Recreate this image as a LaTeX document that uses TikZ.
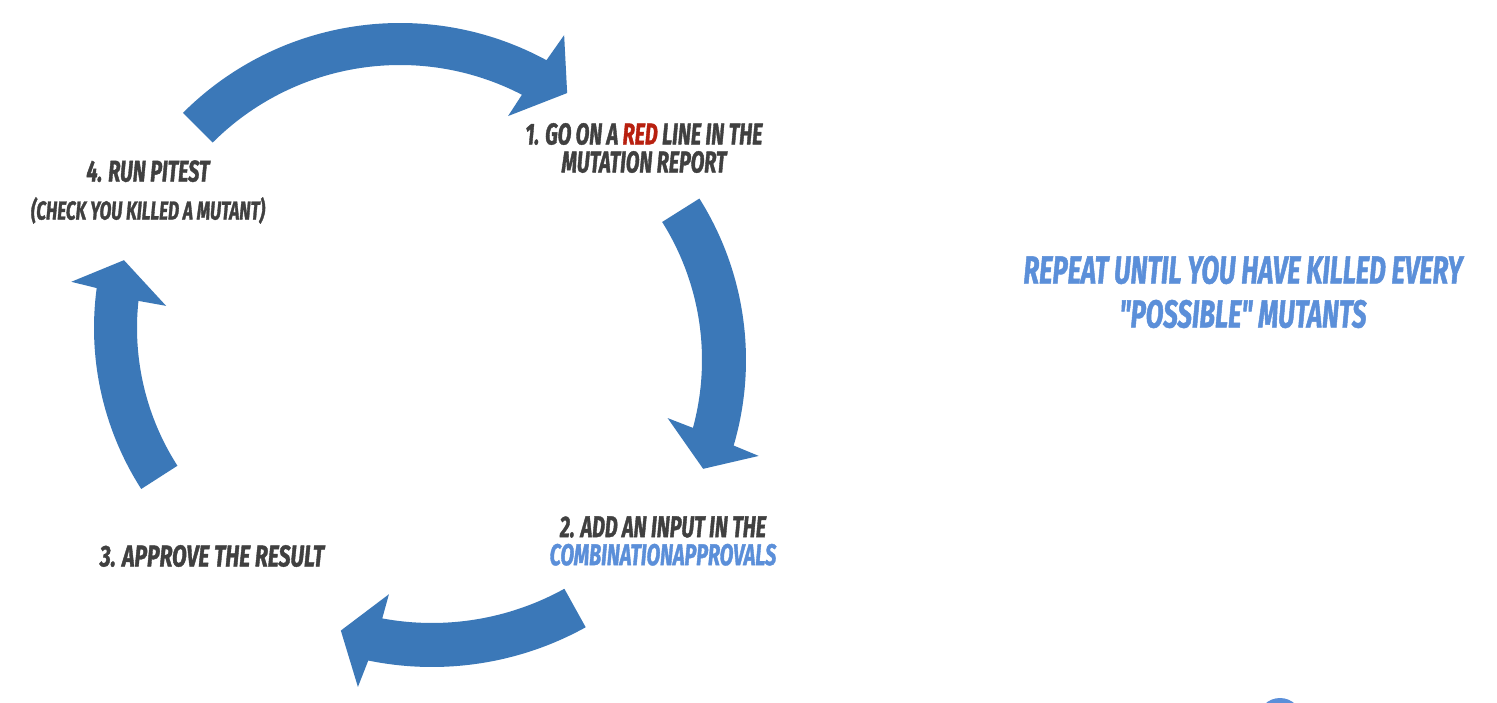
\documentclass[tikz,border=0pt]{standalone}
\usepackage{fontspec}
\newfontfamily\bang{Fira Sans}[FakeStretch=0.66, BoldItalicFeatures={FakeBold=1.2}]
\definecolor{arrblue}{HTML}{3B78B8}
\definecolor{txtgray}{HTML}{404040}
\definecolor{lblue}{HTML}{5B8FD9}
\definecolor{redtxt}{HTML}{B8200F}
\tikzset{
  arr/.style={fill=arrblue},
  lbl/.style={text=txtgray, align=center, inner sep=0pt, font=\bang\bfseries\itshape\fontsize{30}{28}\selectfont},
  biglbl/.style={text=lblue, align=center, inner sep=0pt, font=\bang\bfseries\itshape\fontsize{39}{44}\selectfont}
}
\begin{document}
\begin{tikzpicture}[x=1pt,y=1pt]
\useasboundingbox (0,0) rectangle (1497,702);
\clip (0,0) rectangle (1497,702);
\fill[white] (0,0) rectangle (1497,702);

% top arrow
\begin{scope}[shift={(400,372)}]
\fill[arr] (135:307) arc[start angle=135,end angle=61.5,radius=307] -- (60.9:337.5) -- (54.8:290) -- (63.2:239.7) -- (62.6:265) arc[start angle=62.6,end angle=135,radius=265] -- cycle;
\end{scope}
% right arrow
\begin{scope}[shift={(443,342)}]
\fill[arr] (32.2:303) arc[start angle=32.2,end angle=-16.4,radius=303] -- (-16.9:330) -- (-22.7:282) -- (-14.5:232) -- (-15.2:259) arc[start angle=-15.2,end angle=32.2,radius=259] -- cycle;
\end{scope}
% bottom arrow
\begin{scope}[shift={(432,352)}]
\fill[arr] (-61:317) arc[start angle=-61,end angle=-101.6,radius=317] -- (-102.4:345) -- (-108:295) -- (-100:248) -- (-100.5:273) arc[start angle=-100.5,end angle=-61,radius=273] -- cycle;
\end{scope}
% left arrow
\begin{scope}[shift={(392,374)}]
\fill[arr] (212.7:298) arc[start angle=212.7,end angle=172.3,radius=298] -- (171.8:324) -- (165.8:276.5) -- (174.4:227) -- (173.9:255) arc[start angle=173.9,end angle=212.7,radius=255] -- cycle;
\end{scope}

\node[lbl] (s1) at (644,554) {1. GO ON A \textcolor{redtxt}{RED} LINE IN THE\\MUTATION REPORT};
\node[lbl] (s2) at (663,161) {2. ADD AN INPUT IN THE\\\textcolor{lblue}{COMBINATIONAPPROVALS}};
\node[lbl] (s3) at (212,146) {\scalebox{1.07}[1]{3. APPROVE THE RESULT}};
\node[lbl] (s4) at (148,510) {4. RUN PITEST\\[10pt]{\fontsize{26}{28}\selectfont (CHECK YOU KILLED A MUTANT)}};
\node[biglbl] (rep) at (1243,410) {REPEAT UNTIL YOU HAVE KILLED EVERY\\"POSSIBLE" MUTANTS};

\fill[lblue] (1280,-18) circle[radius=22];
\end{tikzpicture}
\end{document}
